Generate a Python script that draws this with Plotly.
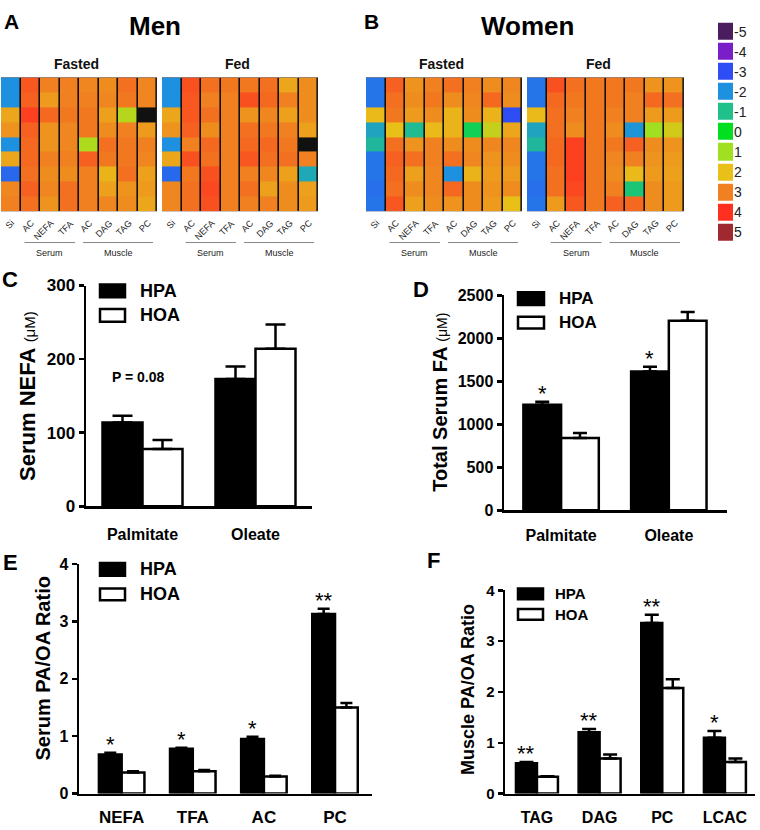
import plotly.graph_objects as go

W, H = 760, 830
FONT = "Arial, Liberation Sans, sans-serif"

# ---------------- heatmap data (rows = subjects, cols = measures) ----------------
hm_cols = ["Si", "AC", "NEFA", "TFA", "AC", "DAG", "TAG", "PC"]

men_fasted = [
    [-2.0, 3.5, 3.0, 3.0, 2.9, 2.8, 3.2, 2.9],
    [-2.0, 3.4, 2.6, 3.0, 3.0, 2.9, 3.1, 2.9],
    [2.4, 3.8, 3.3, 3.1, 3.1, 2.5, 1.3, None],
    [2.7, 3.4, 2.7, 2.9, 3.1, 2.8, 3.0, 2.6],
    [-2.0, 3.3, 2.7, 2.9, 1.2, 3.2, 3.1, 3.0],
    [2.4, 3.3, 3.0, 3.0, 3.4, 3.1, 3.1, 2.9],
    [-2.6, 3.2, 2.8, 2.8, 3.0, 2.2, 3.2, 2.5],
    [2.9, 3.4, 2.9, 3.2, 3.0, 2.5, 2.7, 2.6],
    [3.0, 3.2, 2.7, 3.2, 3.0, 2.9, 2.8, 2.4],
]
men_fed = [
    [-2.0, 3.6, 3.2, 3.1, 3.1, 3.2, 2.4, 2.8],
    [-2.0, 3.5, 3.0, 3.0, 3.6, 3.3, 3.0, 2.8],
    [2.4, 3.5, 3.2, 3.0, 2.7, 2.9, 2.5, 2.8],
    [2.7, 3.4, 2.8, 3.0, 3.2, 3.1, 3.0, 2.5],
    [-2.0, 3.0, 3.3, 3.0, 3.3, 3.3, 3.1, None],
    [2.4, 3.6, 3.2, 3.0, 3.5, 3.2, 3.2, 3.0],
    [-2.6, 3.1, 3.6, 3.0, 3.0, 2.9, 2.5, -1.5],
    [2.9, 3.2, 3.7, 3.0, 3.2, 2.5, 2.8, 2.5],
    [2.9, 3.2, 3.6, 3.0, 3.0, 3.0, 2.8, 2.6],
]
women_fasted = [
    [-2.4, 3.4, 2.7, 3.0, 3.2, 3.0, 2.8, 2.9],
    [-2.4, 3.2, 2.8, 3.1, 2.8, 2.9, 3.3, 2.8],
    [2.1, 3.1, 2.6, 2.8, 2.2, 2.8, 2.2, -3.0],
    [-1.6, 2.0, -1.1, 2.1, 2.2, -0.5, 1.5, 2.4],
    [-1.2, 3.2, 2.7, 3.0, 2.8, 2.8, 2.9, 2.9],
    [-2.4, 3.4, 3.2, 3.0, 3.2, 2.9, 2.7, 2.8],
    [-2.4, 3.3, 2.5, 2.9, -2.0, 2.2, 2.6, 2.6],
    [-2.5, 3.2, 2.8, 2.9, 3.3, 2.8, 2.7, 2.8],
    [-2.4, 3.5, 2.5, 2.8, 2.7, 2.8, 2.6, 2.0],
]
women_fed = [
    [-2.4, 3.6, 3.2, 3.1, 3.1, 3.1, 2.7, 2.7],
    [-2.4, 3.3, 3.1, 3.1, 3.1, 3.0, 3.3, 3.2],
    [2.1, 3.2, 3.0, 3.1, 3.0, 3.0, 2.6, 2.6],
    [-1.6, 3.2, 2.8, 3.1, 2.8, -1.9, 1.0, 1.7],
    [-1.2, 3.3, 3.8, 3.1, 3.1, 3.4, 2.8, 2.7],
    [-2.4, 3.3, 3.8, 3.1, 2.9, 3.0, 2.7, 2.6],
    [-2.4, 3.2, 3.8, 3.1, 2.8, 2.1, 2.6, 2.5],
    [-2.5, 3.2, 3.7, 3.1, 3.0, -0.8, 2.8, 2.6],
    [-2.4, 2.6, 3.5, 3.1, 3.4, 3.3, 2.8, 2.6],
]

scale_levels = [-5, -4, -3, -2, -1, 0, 1, 2, 3, 4, 5]
scale_colors = ["#4a1e5e", "#7a1fc8", "#2f4df5", "#1e90e0", "#20c08a", "#00e020",
                "#a0e020", "#e8c018", "#f08020", "#ff3020", "#a02830"]

# ---------------- bar chart data ----------------
c_cats = ["Palmitate", "Oleate"]
c_hpa = [114, 173]
c_hpa_sem = [9, 17]
c_hoa = [78, 214]
c_hoa_sem = [12, 33]

d_cats = ["Palmitate", "Oleate"]
d_hpa = [1227, 1614]
d_hpa_sem = [34, 56]
d_hoa = [841, 2205]
d_hoa_sem = [57, 102]
d_sig = ["*", "*"]

e_cats = ["NEFA", "TFA", "AC", "PC"]
e_hpa = [0.68, 0.78, 0.95, 3.13]
e_hpa_sem = [0.03, 0.02, 0.04, 0.09]
e_hoa = [0.37, 0.39, 0.30, 1.50]
e_hoa_sem = [0.02, 0.02, 0.01, 0.08]
e_sig = ["*", "*", "*", "**"]

f_cats = ["TAG", "DAG", "PC", "LCAC"]
f_hpa = [0.60, 1.21, 3.36, 1.10]
f_hpa_sem = [0.02, 0.06, 0.16, 0.13]
f_hoa = [0.33, 0.69, 2.08, 0.62]
f_hoa_sem = [0.01, 0.08, 0.17, 0.07]
f_sig = ["**", "**", "**", "*"]


def px_x(p):
    return p / W


def px_y(p):
    return 1 - p / H


colorscale = [[(v + 5) / 10, c] for v, c in zip(scale_levels, scale_colors)]

fig = go.Figure()
layout = dict(width=W, height=H, margin=dict(l=0, r=0, t=0, b=0),
              paper_bgcolor="white", plot_bgcolor="rgba(0,0,0,0)",
              showlegend=False, barmode="overlay",
              font=dict(family=FONT, color="black"))
annotations = []
shapes = []

# ---------------- heatmaps ----------------
hm_specs = [
    (men_fasted, 1, 157),
    (men_fed, 162, 318),
    (women_fasted, 366, 522),
    (women_fed, 527, 684),
]
hm_top, hm_bot = 70, 207
for i, (z, x0, x1) in enumerate(hm_specs):
    n = i + 1
    xa = "x" if n == 1 else f"x{n}"
    ya = "y" if n == 1 else f"y{n}"
    fig.add_trace(go.Heatmap(z=z, x=list(range(8)), y=list(range(9)),
                             colorscale=colorscale, zmin=-5, zmax=5,
                             showscale=False, xgap=1.6, ygap=0,
                             xaxis=xa, yaxis=ya, hoverinfo="skip"))
    kx = "xaxis" if n == 1 else f"xaxis{n}"
    ky = "yaxis" if n == 1 else f"yaxis{n}"
    layout[kx] = dict(domain=[px_x(x0), px_x(x1)], range=[-0.5, 7.5], anchor=ya,
                      showticklabels=False, showgrid=False, zeroline=False, ticks="")
    layout[ky] = dict(domain=[px_y(hm_bot), px_y(hm_top)], range=[8.5, -0.5], anchor=xa,
                      showticklabels=False, showgrid=False, zeroline=False, ticks="")
    shapes.append(dict(type="rect", xref=xa, yref=ya, x0=-0.5, x1=7.5, y0=-0.5, y1=8.5,
                       fillcolor="#111111", line=dict(color="#333333", width=1), layer="below"))
    # column labels
    for j, lab in enumerate(hm_cols):
        annotations.append(dict(text=lab, xref=xa, yref="paper", x=j + 0.45, y=px_y(211),
                                xanchor="right", yanchor="top", textangle=-45, showarrow=False,
                                font=dict(size=9, color="#222222", family=FONT)))
    # group lines and texts
    colw = (x1 - x0) / 8
    for (a, b, name) in [(1, 3, "Serum"), (4, 7, "Muscle")]:
        lx0 = x0 + a * colw + 4
        lx1 = x0 + (b + 1) * colw - 4
        shapes.append(dict(type="line", xref="paper", yref="paper", x0=px_x(lx0), x1=px_x(lx1),
                           y0=px_y(239), y1=px_y(239), line=dict(color="#888888", width=1)))
        annotations.append(dict(text=name, xref="paper", yref="paper", x=px_x((lx0 + lx1) / 2),
                                y=px_y(250), xanchor="center", yanchor="middle", showarrow=False,
                                font=dict(size=9, color="#222222", family=FONT)))

# colour key
fig.add_trace(go.Heatmap(z=[[v] for v in scale_levels], x=[0], y=list(range(11)),
                         colorscale=colorscale, zmin=-5, zmax=5, showscale=False,
                         ygap=3, xaxis="x5", yaxis="y5", hoverinfo="skip"))
layout["xaxis5"] = dict(domain=[px_x(718), px_x(733)], range=[-0.5, 0.5], anchor="y5",
                        showticklabels=False, showgrid=False, zeroline=False, ticks="")
layout["yaxis5"] = dict(domain=[px_y(239), px_y(13)], range=[10.5, -0.5], anchor="x5",
                        side="right", tickvals=list(range(11)),
                        ticktext=[str(v) for v in scale_levels], ticks="",
                        showgrid=False, zeroline=False,
                        tickfont=dict(size=14, color="#222222", family=FONT))

# titles A / B
for txt, x, y, s in [("A", 11, 13, 21), ("B", 371, 13, 21)]:
    annotations.append(dict(text=f"<b>{txt}</b>", xref="paper", yref="paper", x=px_x(x), y=px_y(y),
                            xanchor="center", yanchor="middle", showarrow=False,
                            font=dict(size=s, family=FONT)))
for txt, x in [("Men", 155), ("Women", 527)]:
    annotations.append(dict(text=f"<b>{txt}</b>", xref="paper", yref="paper", x=px_x(x), y=px_y(17),
                            xanchor="center", yanchor="middle", showarrow=False,
                            font=dict(size=26, family=FONT)))
for txt, x in [("Fasted", 76), ("Fed", 238), ("Fasted", 441), ("Fed", 598)]:
    annotations.append(dict(text=f"<b>{txt}</b>", xref="paper", yref="paper", x=px_x(x), y=px_y(56),
                            xanchor="center", yanchor="middle", showarrow=False,
                            font=dict(size=14, color="#111111", family=FONT)))


# ---------------- bar panels ----------------
def bar_panel(n, cats, hpa, hpa_sem, hoa, hoa_sem, xdom, ydom, xrange, yrange, dtick,
              w, cap, tickfs, labfs, labpad):
    xa, ya = f"x{n}", f"y{n}"
    zeros = [0] * len(cats)
    fig.add_trace(go.Bar(x=cats, y=hpa, width=w, offset=-w, xaxis=xa, yaxis=ya,
                         marker=dict(color="black", line=dict(color="black", width=2.5)),
                         error_y=dict(type="data", array=hpa_sem, arrayminus=zeros, symmetric=False,
                                      color="black", thickness=2.5, width=cap),
                         hoverinfo="skip"))
    fig.add_trace(go.Bar(x=cats, y=hoa, width=w, offset=0, xaxis=xa, yaxis=ya,
                         marker=dict(color="white", line=dict(color="black", width=2.5)),
                         error_y=dict(type="data", array=hoa_sem, arrayminus=zeros, symmetric=False,
                                      color="black", thickness=2.5, width=cap),
                         hoverinfo="skip"))
    layout[f"xaxis{n}"] = dict(domain=[px_x(xdom[0]), px_x(xdom[1])], range=xrange, anchor=ya,
                               type="category", showline=True, linecolor="black", linewidth=2.5,
                               ticks="outside", ticklen=labpad, tickcolor="rgba(0,0,0,0)",
                               showgrid=False, zeroline=False,
                               tickfont=dict(size=labfs, family=FONT, weight="bold"))
    layout[f"yaxis{n}"] = dict(domain=[px_y(ydom[1]), px_y(ydom[0])], range=yrange, anchor=xa,
                               dtick=dtick, showline=True, linecolor="black", linewidth=2.5,
                               ticks="outside", ticklen=5, tickwidth=2.5, tickcolor="black",
                               showgrid=False, zeroline=False,
                               tickfont=dict(size=tickfs, family=FONT, weight="bold"))
    return xa, ya


def stars(xa, ya, cats, hpa, hpa_sem, sig, w_px, size):
    for c, v, s, t in zip(cats, hpa, hpa_sem, sig):
        annotations.append(dict(text=t, xref=xa, yref=ya, x=c, y=v + s, xshift=-w_px / 2,
                                yshift=-6, xanchor="center", yanchor="bottom", showarrow=False,
                                font=dict(size=size, family=FONT)))


def legend(x0, x1, y_hpa, y_hoa, tx, fs, lw=2.5):
    for (yy, fill, lab) in [(y_hpa, "black", "HPA"), (y_hoa, "white", "HOA")]:
        shapes.append(dict(type="rect", xref="paper", yref="paper", x0=px_x(x0), x1=px_x(x1),
                           y0=px_y(yy[1]), y1=px_y(yy[0]), fillcolor=fill,
                           line=dict(color="black", width=lw)))
        annotations.append(dict(text=f"<b>{lab}</b>", xref="paper", yref="paper", x=px_x(tx),
                                y=px_y((yy[0] + yy[1]) / 2), xanchor="left", yanchor="middle",
                                showarrow=False, font=dict(size=fs, family=FONT)))


def panel_label(txt, x, y, size=22):
    annotations.append(dict(text=f"<b>{txt}</b>", xref="paper", yref="paper", x=px_x(x), y=px_y(y),
                            xanchor="center", yanchor="middle", showarrow=False,
                            font=dict(size=size, family=FONT)))


def ytitle(txt, x, y, size):
    annotations.append(dict(text=txt, xref="paper", yref="paper", x=px_x(x), y=px_y(y),
                            xanchor="center", yanchor="middle", textangle=-90, showarrow=False,
                            font=dict(size=size, family=FONT)))


# C
xa, ya = bar_panel(6, c_cats, c_hpa, c_hpa_sem, c_hoa, c_hoa_sem, (86, 312), (283, 509),
                   [-0.5, 1.5], [0, 300], 100, 0.354, 10, 17, 16, 12)
panel_label("C", 10, 277)
legend(100, 125, (282, 295), (307, 320), 138, 18)
annotations.append(dict(text="<b>P = 0.08</b>", xref="paper", yref="paper", x=px_x(138), y=px_y(377),
                        xanchor="center", yanchor="middle", showarrow=False,
                        font=dict(size=14, family=FONT)))
ytitle("<b>Serum NEFA </b><span style='font-size:15px'>(μM)</span>", 28, 396, 22)

# D
xa, ya = bar_panel(7, d_cats, d_hpa, d_hpa_sem, d_hoa, d_hoa_sem, (504, 727), (293, 513),
                   [-0.53, 1.54], [0, 2500], 500, 0.35, 7, 16, 16, 9)
stars(xa, ya, d_cats, d_hpa, d_hpa_sem, d_sig, 38, 22)
panel_label("D", 421, 287)
legend(518, 544, (290, 303), (315, 327), 557, 17)
ytitle("<b>Total Serum FA </b><span style='font-size:14px'>(μM)</span>", 440, 403, 20)

# E
xa, ya = bar_panel(8, e_cats, e_hpa, e_hpa_sem, e_hoa, e_hoa_sem, (79, 372), (568, 803),
                   [-0.6, 3.52], [0, 4], 1, 0.32, 6, 16, 17, 6)
stars(xa, ya, e_cats, e_hpa, e_hpa_sem, e_sig, 23, 22)
panel_label("E", 10, 566)
legend(100, 125, (567, 580), (593, 605), 138, 18)
ytitle("<b>Serum PA/OA Ratio</b>", 43, 675, 20)

# F
xa, ya = bar_panel(9, f_cats, f_hpa, f_hpa_sem, f_hoa, f_hoa_sem, (505, 755), (595, 803),
                   [-0.51, 3.48], [0, 4], 1, 0.335, 7, 15, 16, 8)
stars(xa, ya, f_cats, f_hpa, f_hpa_sem, f_sig, 21, 22)
panel_label("F", 433, 564)
legend(518, 543, (593, 604), (614, 625), 553, 15)
ytitle("<b>Muscle PA/OA Ratio</b>", 468, 697, 18)

layout["annotations"] = annotations
layout["shapes"] = shapes
fig.update_layout(**layout)
fig.write_html("out.html", config={"displayModeBar": False, "staticPlot": True},
               post_script="document.body.style.margin='0';document.body.style.overflow='hidden';")
